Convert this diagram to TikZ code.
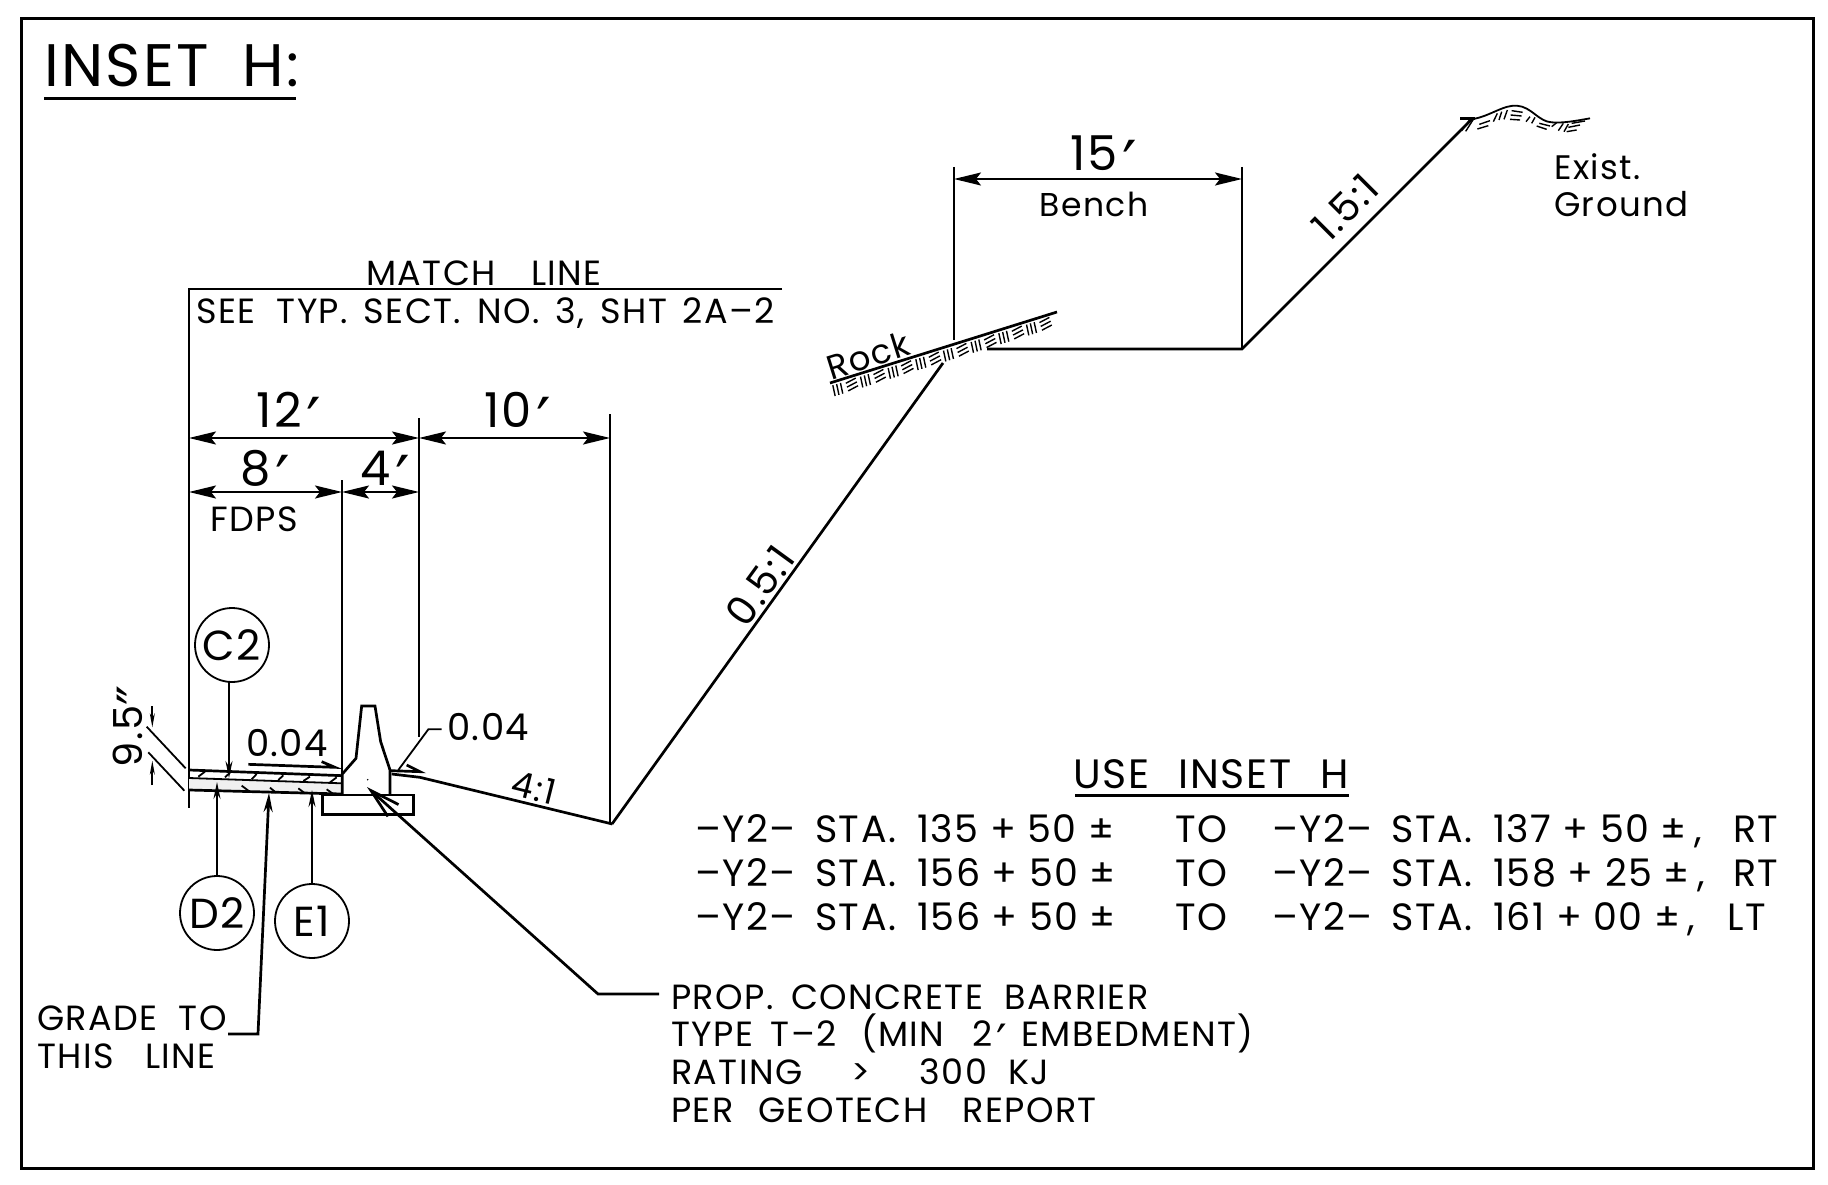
\documentclass[tikz,border=0pt]{standalone}
\usepackage{fontspec}
\setmainfont[LetterSpace=4.0]{Poppins}
\newfontfamily\primefont[Scale=1.35]{DejaVu Sans}
\usetikzlibrary{arrows.meta}
\newcommand{\ft}{\hspace{0.1em}\raisebox{-0.36em}{\primefont\char"2032}}
\newcommand{\inch}{\raisebox{-0.36em}{\primefont\char"2033}}
\newcommand{\pl}{\hspace{0.3em}+\hspace{0.3em}}
\begin{document}
\begin{tikzpicture}[x=1pt, y=-1pt,
		thinline/.style={line width=1.8pt},
		thickline/.style={line width=2.7pt},
		hatchline/.style={line width=1.4pt},
		dimline/.style={thinline, {Stealth[length=27pt,width=13pt,inset=5pt]}-{Stealth[length=27pt,width=13pt,inset=5pt]}},
		lead/.style={thinline, -{Stealth[length=17pt,width=7pt]}},
		lbl/.style={font=\fontsize{35}{35}\selectfont, inner sep=0pt, text height=26pt, text depth=0pt},
		tbl/.style={font=\fontsize{38}{38}\selectfont, inner sep=0pt, text height=28pt, text depth=0pt, anchor=west},
		slopelbl/.style={font=\fontsize{40}{40}\selectfont, inner sep=0pt, text height=29pt, text depth=0pt},
		biglbl/.style={font=\fontsize{48}{48}\selectfont, inner sep=0pt, text height=35pt, text depth=0pt},
		callout/.style={circle, draw, thinline, minimum size=74pt, inner sep=0pt, font=\fontsize{42}{42}\selectfont}]
	\useasboundingbox (0,0) rectangle (1828,1185);
	\draw[line width=3pt] (21,18.5) rectangle (1813,1168);

	\node[font=\fontsize{60}{60}\selectfont, inner sep=0pt, text height=44pt, text depth=0pt, anchor=west] (title) at (44,65) {INSET\hspace{0.25em} H:};
	\draw[line width=3pt] (44,99) -- (296,99);

	\draw[thinline] (782,289) -- (189,289) -- (189,808);
	\draw[thinline] (342,480) -- (342,773);
	\draw[thinline] (419,418) -- (419,737);
	\draw[thinline] (610,414) -- (610,822);
	\node[lbl] (matchline) at (484,272) {MATCH\hspace{0.7em} LINE};
	\node[lbl, anchor=west] (seetyp) at (196,310) {SEE\hspace{0.3em} TYP.\hspace{0.15em} SECT.\hspace{0.15em} NO.\hspace{0.15em} 3,\hspace{0.15em} SHT\hspace{0.15em} 2A–2};

	\coordinate (a) at (189,438);
	\coordinate (b) at (419,438);
	\coordinate (c) at (610,438);
	\coordinate (d) at (189,492);
	\coordinate (e) at (342,492);
	\coordinate (f) at (419,492);
	\draw[dimline] (a) -- (b);
	\draw[dimline] (b) -- (c);
	\draw[dimline] (d) -- (e);
	\draw[dimline] (e) -- (f);
	\node[biglbl] (dimtwelve) at (289,410) {12\ft};
	\node[biglbl] (dimten) at (518,410) {10\ft};
	\node[biglbl] (dimeight) at (265,468) {8\ft};
	\node[biglbl] (dimfour) at (385,468) {4\ft};
	\node[lbl] (fdps) at (254,518) {FDPS};

	\begin{scope}[shift={(90,620)}, scale=1/3]
		\fill[gray!12] (297,474) -- (757,490) -- (757,522) -- (297,510) -- cycle;
		\draw[thickline] (297,450) -- (757,467);
		\draw[thinline] (297,474) -- (757,490);
		\draw[thickline] (297,510) -- (757,522);
		\foreach \xa/\ya/\xb/\yb in {325/470/345/455, 405/472/420/458, 485/478/500/462, 565/480/580/466, 640/483/660/470, 720/487/740/472,
				455/497/475/512, 540/503/558/518, 625/505/645/520, 710/508/730/522}
			\draw[thinline] (\xa,\ya) -- (\xb,\yb);
		\draw[thickline] (757,522) -- (757,462) -- (798,415) -- (815,258) -- (855,258) -- (872,365) -- (900,450) -- (900,525);
		\draw[thickline] (698,525) rectangle (970,584);
		\fill (833,479) circle (2.5);
		\draw[thickline] (900,452) -- (990,455) -- (950,435);
		\draw[thickline] (905,462) -- (990,472) -- (1567,612);
		\draw[thickline] (475,433) -- (735,442) -- (695,425);
		\draw[thinline] (1055,328) -- (1015,328) -- (925,450);
		\draw[thinline] (170,320) -- (287,445);
		\draw[thinline] (175,397) -- (283,512);
		\draw[thinline, -{Stealth[length=14pt,width=5pt]}] (187,258) -- (187,322);
		\draw[thinline, -{Stealth[length=14pt,width=5pt]}] (187,495) -- (187,422);
	\end{scope}
	\node[slopelbl, rotate=90] (nine) at (128,726) {9.5\inch};
	\node[lbl, font=\fontsize{37}{37}\selectfont] (slopeleft) at (287,743) {0.04};
	\node[lbl, font=\fontsize{37}{37}\selectfont, anchor=west] (sloperight) at (447,727) {0.04};
	\node[lbl, rotate=-14] (fourone) at (534,787) {4:1};

	\node[callout] (ctwo) at (232,645) {C2};
	\node[callout] (dtwo) at (217,913) {D2};
	\node[callout] (eone) at (312,921) {E1};
	\coordinate (ctwotip) at (229,778);
	\coordinate (dtwotip) at (217,782);
	\coordinate (eonetip) at (312,790);
	\draw[lead] (229,682) -- (ctwotip);
	\draw[lead] (dtwo) -- (dtwotip);
	\draw[lead] (eone) -- (eonetip);

	\node[lbl, anchor=west] (gradeto) at (37,1017) {GRADE\hspace{0.3em} TO};
	\node[lbl, anchor=west] (thisline) at (37,1055) {THIS\hspace{0.6em} LINE};
	\coordinate (gradebend) at (258,1034);
	\coordinate (gradetip) at (269,793);
	\draw[thickline, -{Stealth[length=19pt,width=9pt]}] (228,1034) -- (gradebend) -- (gradetip);

	\coordinate (barriertip) at (367,787);
	\coordinate (barrierbend) at (598,994);
	\coordinate (barrierend) at (659,994);
	\draw[thickline, {Straight Barb[length=30pt,width=16pt]}-] (barriertip) -- (barrierbend) -- (barrierend);
	\node[lbl, anchor=west] (propa) at (671,996) {PROP.\hspace{0.2em} CONCRETE\hspace{0.3em} BARRIER};
	\node[lbl, anchor=west] (propb) at (671,1033) {TYPE\hspace{0.2em} T–2\hspace{0.4em} (MIN\hspace{0.5em} 2\ft\hspace{0.1em}\ EMBEDMENT)};
	\node[lbl, anchor=west] (propc) at (671,1071) {RATING\hspace{1.1em} >\hspace{1.1em} 300\hspace{0.3em} KJ};
	\node[lbl, anchor=west] (propd) at (671,1109) {PER\hspace{0.4em} GEOTECH\hspace{0.7em} REPORT};

	\draw[thickline] (612,824) -- (943,363);
	\draw[thickline] (830,383) -- (1057,312);
	\draw[thickline] (987,349) -- (1242,349) -- (1473,118);
	\begin{scope}[shift={(830,383)}, rotate=17.4]
		\foreach \i in {0,...,7} {
			\draw[hatchline] ({29*\i+1},14) -- ({29*\i+2},3);
			\draw[hatchline] ({29*\i+5},14) -- ({29*\i+6},3);
			\draw[hatchline] ({29*\i+9},14) -- ({29*\i+10},3);
			\draw[hatchline] ({29*\i+15},5) -- ({29*\i+26},3);
			\draw[hatchline] ({29*\i+15},9) -- ({29*\i+26},7);
			\draw[hatchline] ({29*\i+15},13) -- ({29*\i+26},11);
		}
	\end{scope}
	\draw[thinline] (954,167) -- (954,340);
	\draw[thinline] (1242,167) -- (1242,349);
	\coordinate (g) at (954,179);
	\coordinate (h) at (1242,179);
	\draw[dimline] (g) -- (h);
	\node[biglbl] (dimfifteen) at (1104,153) {15\ft};
	\node[lbl, font=\fontsize{33}{33}\selectfont] (bench) at (1094,204) {Bench};
	\node[lbl, font=\fontsize{34}{34}\selectfont, rotate=17.4] (rock) at (868,355) {Rock};
	\node[slopelbl, rotate=54] (halfone) at (760,586) {0.5:1};
	\node[slopelbl, rotate=45] (oneandhalf) at (1345,207) {1.5:1};

	\begin{scope}[shift={(1420,90)}, scale=1/3]
		\draw[thickline] (120,86) -- (165,86);
		\draw[thinline] (165,86) .. controls (215,75) and (250,45) .. (290,47) .. controls (335,50) and (355,95) .. (395,97) .. controls (430,100) and (470,92) .. (510,85);
		\foreach \xa/\ya/\xb/\yb in {125/122/150/88, 137/124/160/88, 178/103/210/92, 172/117/205/107, 220/95/232/70, 237/90/245/65, 252/88/262/60,
				275/62/308/67, 272/75/305/78, 270/88/300/90, 318/95/330/80, 335/100/345/82, 350/108/380/118, 358/100/390/108,
				395/110/410/98, 415/122/430/100, 432/125/445/102, 445/112/480/105, 440/125/470/120, 455/100/495/93}
			\draw[hatchline] (\xa,\ya) -- (\xb,\yb);
	\end{scope}
	\node[lbl, font=\fontsize{34}{34}\selectfont, anchor=west] (exist) at (1554,167) {Exist.};
	\node[lbl, font=\fontsize{34}{34}\selectfont, anchor=west] (ground) at (1554,204) {Ground};

	\node[tbl, font=\fontsize{41}{41}\selectfont, text height=30pt, anchor=center] (usehead) at (1211,773) {USE\hspace{0.4em} INSET\hspace{0.4em} H};
	\draw[line width=3pt] (1075,795) -- (1349,795);
	\foreach \rowy/\staa/\stab/\side/\sidex in {828/135\pl 50/137\pl 50/RT/1733, 872/156\pl 50/158\pl 25/RT/1733, 916/156\pl 50/161\pl 00/LT/1727} {
		\node[tbl] at (695,\rowy) {–Y2–};
		\node[tbl] at (815,\rowy) {STA.};
		\node[tbl] at (917,\rowy) {\staa\hspace{0.3em}±};
		\node[tbl] at (1175,\rowy) {TO};
		\node[tbl] at (1272,\rowy) {–Y2–};
		\node[tbl] at (1391,\rowy) {STA.};
		\node[tbl] at (1493,\rowy) {\stab\hspace{0.3em}±\hspace{0.2em},};
		\node[tbl] at (\sidex,\rowy) {\side};
	}
\end{tikzpicture}
\end{document}
